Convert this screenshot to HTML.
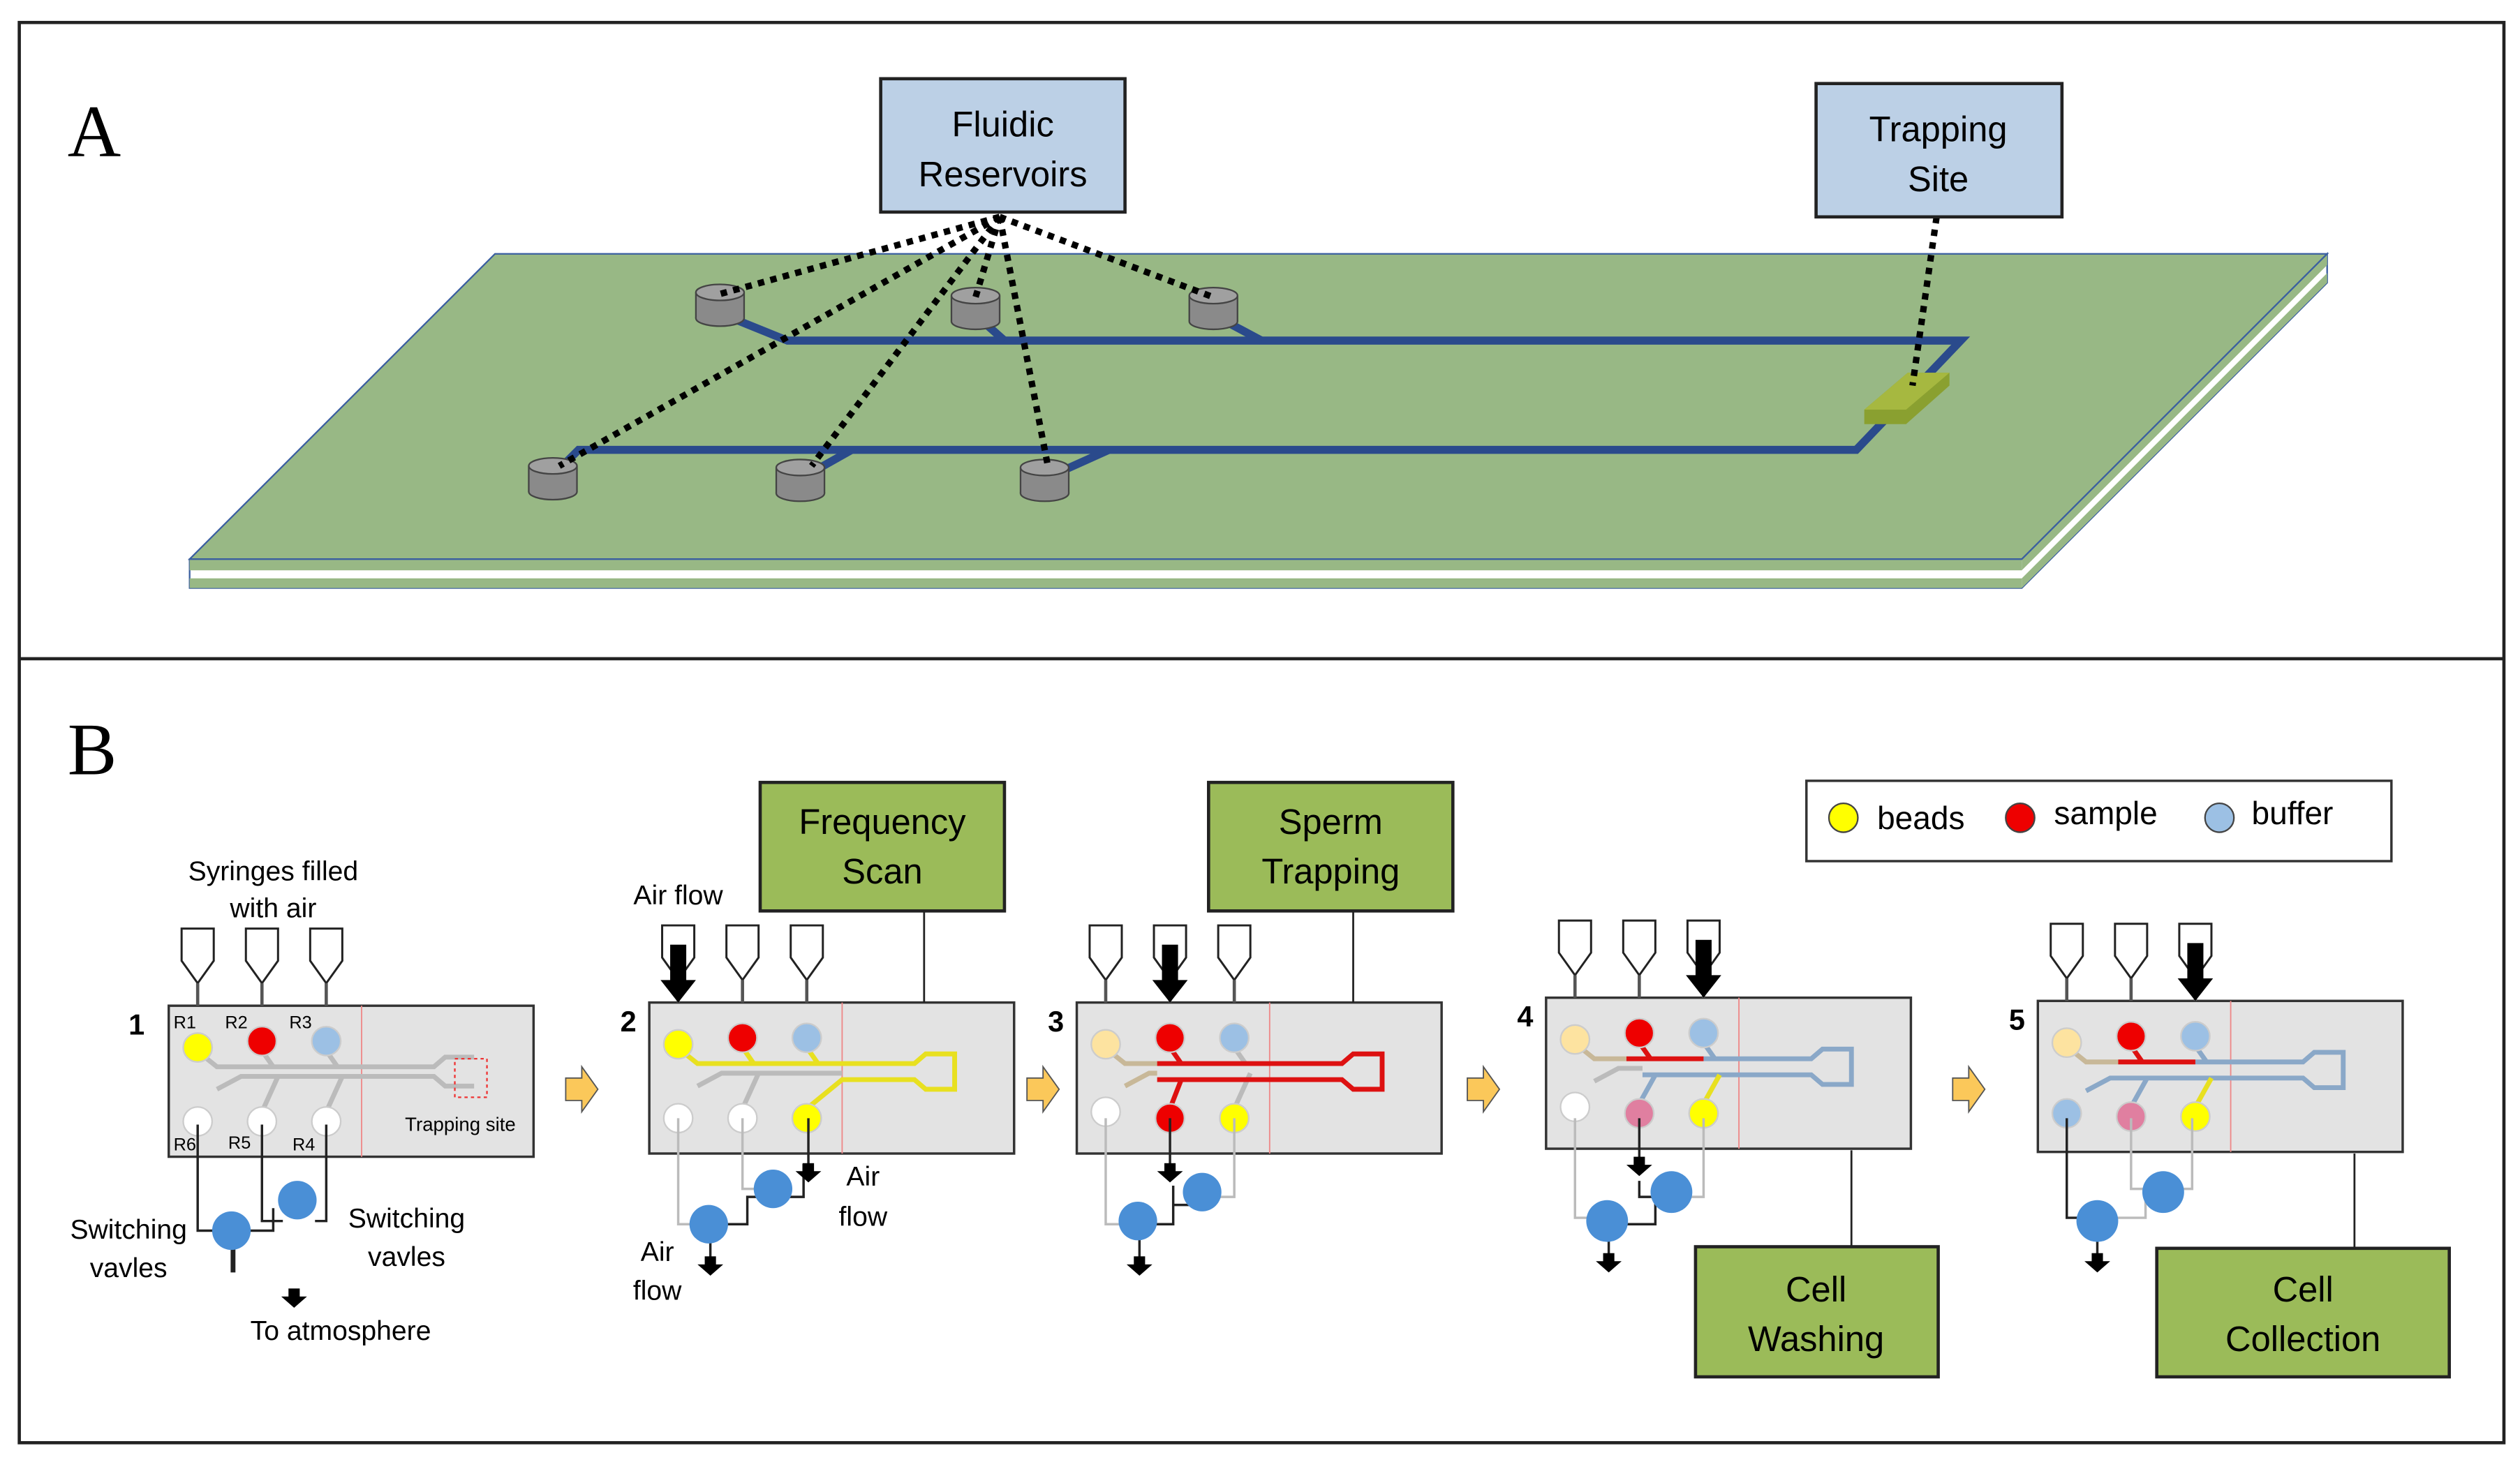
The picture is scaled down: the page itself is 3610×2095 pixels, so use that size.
<!DOCTYPE html>
<html><head><meta charset="utf-8"><style>html,body{margin:0;padding:0;background:#fff}svg{display:block}text{font-family:"Liberation Sans",sans-serif}</style></head><body>
<svg width="3610" height="2095" viewBox="0 0 1568 910" preserveAspectRatio="none" xmlns="http://www.w3.org/2000/svg">
<defs>
<g id="chipbase">
<rect x="0" y="0" width="227" height="94" fill="#e3e3e3" stroke="#333" stroke-width="1.5"/>
<line x1="120" y1="0" x2="120" y2="94" stroke="#e88" stroke-width="0.8"/>
</g>
<g id="syr"><path d="M-10,-48 V-28 L0,-14 L10,-28 V-48 Z" fill="#fff" stroke="#222" stroke-width="1.3"/><line x1="0" y1="-14" x2="0" y2="0" stroke="#555" stroke-width="2"/></g>
<g id="bigarrow"><rect x="-5" y="-40" width="10" height="24" fill="#000"/><path d="M-11,-18 H11 L0,-4 Z" fill="#000"/></g>
<g id="smallarrow"><rect x="-3.5" y="-10" width="7" height="6" fill="#000"/><path d="M-8,-5 H8 L0,2 Z" fill="#000"/></g>
<g id="fwd"><path d="M0,-7 H10 V-14 L20,0 L10,14 V7 H0 Z" fill="#fbc85a" stroke="#555" stroke-width="0.8"/></g>
<g id="res" fill="#8a8a8a" stroke="#444" stroke-width="1"><ellipse cx="0" cy="8" rx="15" ry="5"/><rect x="-15" y="-8" width="30" height="16" stroke="none"/><line x1="-15" y1="-8" x2="-15" y2="8"/><line x1="15" y1="-8" x2="15" y2="8"/><ellipse cx="0" cy="-8" rx="15" ry="5" fill="#a0a0a0"/></g>
</defs>
<rect x="12" y="14" width="1546" height="884" fill="#fff" stroke="#222" stroke-width="2"/>
<line x1="12" y1="410" x2="1558" y2="410" stroke="#222" stroke-width="2"/>
<text x="42" y="97" style="font-family:'Liberation Serif',serif;font-size:46px">A</text>
<text x="42" y="482" style="font-family:'Liberation Serif',serif;font-size:46px">B</text>

<!-- Board -->
<polygon points="118,366 1258,366 1448,176 1448,158 1258,348 118,348" fill="#fff" stroke="#3b5fa0" stroke-width="1"/>
<polygon points="118,348 1258,348 1258,355 118,355" fill="#98b885"/>
<polygon points="118,360 1258,360 1258,366 118,366" fill="#98b885"/>
<polygon points="1258,348 1448,158 1448,165 1258,355" fill="#98b885"/>
<polygon points="1258,360 1448,170 1448,176 1258,366" fill="#98b885"/>
<polygon points="118,348 308,158 1448,158 1258,348" fill="#98b885" stroke="#3b5fa0" stroke-width="1"/>
<g fill="none" stroke="#2a4a8c" stroke-width="5">
<path d="M448,195 L490,212 H1220 L1155,280 H360 L344,296"/>
<path d="M607,196 L625,212"/><path d="M755,196 L785,212"/>
<path d="M498,298 L530,280"/><path d="M650,298 L690,280"/>
</g>
<polygon points="1160,255 1187,232 1213,232 1213,240 1186,264 1160,264" fill="#8aa030"/>
<polygon points="1160,255 1187,232 1213,232 1186,255" fill="#a6b840"/>
<use href="#res" x="448" y="190"/><use href="#res" x="607" y="192"/><use href="#res" x="755" y="192"/>
<use href="#res" x="344" y="298"/><use href="#res" x="498" y="299"/><use href="#res" x="650" y="299"/>
<g stroke="#000" stroke-width="4" stroke-dasharray="4,4" fill="none">
<path d="M622,135 L448,183"/><path d="M622,135 L607,185"/><path d="M622,135 L755,185"/>
<path d="M622,135 L348,290"/><path d="M622,135 L505,290"/><path d="M622,135 L652,290"/>
<path d="M1205,135 L1190,240"/>
</g>
<rect x="548" y="49" width="152" height="83" fill="#bcd0e6" stroke="#222" stroke-width="2"/>
<text x="624" y="85" font-size="22" text-anchor="middle">Fluidic</text>
<text x="624" y="116" font-size="22" text-anchor="middle">Reservoirs</text>
<rect x="1130" y="52" width="153" height="83" fill="#bcd0e6" stroke="#222" stroke-width="2"/>
<text x="1206" y="88" font-size="22" text-anchor="middle">Trapping</text>
<text x="1206" y="119" font-size="22" text-anchor="middle">Site</text>

<!-- Legend -->
<rect x="1124" y="486" width="364" height="50" fill="#fff" stroke="#333" stroke-width="1.5"/>
<circle cx="1147" cy="509" r="9" fill="#ffff00" stroke="#444"/><text x="1168" y="516" font-size="20">beads</text>
<circle cx="1257" cy="509" r="9" fill="#ee0000" stroke="#444"/><text x="1278" y="513" font-size="20">sample</text>
<circle cx="1381" cy="509" r="9" fill="#9cc0e4" stroke="#444"/><text x="1401" y="513" font-size="20">buffer</text>

<!-- Panel 1 -->
<g transform="translate(105,626)">
<use href="#chipbase"/>
<g fill="none" stroke="#bbb" stroke-width="3"><path d="M20,30 L30,38 H165 L172,32 H190 M30,52 L45,44 H165 L172,50 H190 M58,28 L65,38 M98,28 L105,38 M58,66 L68,44 M98,66 L108,44"/></g>
<rect x="178" y="33" width="20" height="24" fill="none" stroke="#e33" stroke-dasharray="2,2"/>
<circle cx="18" cy="26" r="9" fill="#ffff00" stroke="#ccc"/><circle cx="58" cy="22" r="9" fill="#ee0000" stroke="#ccc"/><circle cx="98" cy="22" r="9" fill="#9cc0e4" stroke="#ccc"/>
<circle cx="18" cy="72" r="9" fill="#fff" stroke="#ccc"/><circle cx="58" cy="72" r="9" fill="#fff" stroke="#ccc"/><circle cx="98" cy="72" r="9" fill="#fff" stroke="#ccc"/>
<text x="3" y="14" font-size="11">R1</text><text x="35" y="14" font-size="11">R2</text><text x="75" y="14" font-size="11">R3</text>
<text x="3" y="90" font-size="11">R6</text><text x="37" y="89" font-size="11">R5</text><text x="77" y="90" font-size="11">R4</text>
<text x="147" y="78" font-size="12">Trapping site</text>
<use href="#syr" x="18" y="0"/><use href="#syr" x="58" y="0"/><use href="#syr" x="98" y="0"/>
</g>
<text x="80" y="644" font-size="18" font-weight="bold">1</text>
<g fill="none" stroke="#222" stroke-width="1.5"><path d="M123,700 V766 H136 M163,700 V760 H176 M203,700 V760 H196 M150,766 H170 V752"/><path d="M145,772 V792" stroke-width="3"/></g>
<circle cx="144" cy="766" r="12" fill="#4a8fd6"/><circle cx="185" cy="747" r="12" fill="#4a8fd6"/>
<text x="170" y="548" font-size="17" text-anchor="middle">Syringes filled</text>
<text x="170" y="571" font-size="17" text-anchor="middle">with air</text>
<text x="80" y="771" font-size="17" text-anchor="middle">Switching</text><text x="80" y="795" font-size="17" text-anchor="middle">vavles</text>
<text x="253" y="764" font-size="17" text-anchor="middle">Switching</text><text x="253" y="788" font-size="17" text-anchor="middle">vavles</text>
<use href="#smallarrow" x="183" y="812"/>
<text x="212" y="834" font-size="17" text-anchor="middle">To atmosphere</text>
<use href="#fwd" x="352" y="678"/>

<!-- Panel 2 -->
<g transform="translate(404,624)">
<use href="#chipbase"/>
<g fill="none" stroke="#bbb" stroke-width="3"><path d="M30,52 L45,44 H120 M58,66 L68,44"/></g>
<g fill="none" stroke="#e8e020" stroke-width="3"><path d="M20,30 L30,38 H165 L172,32 H190 V54 H172 L165,48 H120 L98,66 M58,28 L65,38 M98,28 L105,38"/></g>
<circle cx="18" cy="26" r="9" fill="#ffff00" stroke="#ccc"/><circle cx="58" cy="22" r="9" fill="#ee0000" stroke="#ccc"/><circle cx="98" cy="22" r="9" fill="#9cc0e4" stroke="#ccc"/>
<circle cx="18" cy="72" r="9" fill="#fff" stroke="#ccc"/><circle cx="58" cy="72" r="9" fill="#fff" stroke="#ccc"/><circle cx="98" cy="72" r="9" fill="#ffff00" stroke="#ccc"/>
<use href="#syr" x="18" y="0"/><use href="#syr" x="58" y="0"/><use href="#syr" x="98" y="0"/>
<use href="#bigarrow" x="18" y="4"/>
</g>
<text x="386" y="642" font-size="18" font-weight="bold">2</text>
<g fill="none" stroke="#222" stroke-width="1.5"><path d="M503,696 V735 M485,745 H500 V725 H503 M448,762 H465 V745 H480 M442,768 V785"/></g>
<g fill="none" stroke="#bbb" stroke-width="1.5"><path d="M422,696 V762 H432 M462,696 V740 H475"/></g>
<circle cx="481" cy="740" r="12" fill="#4a8fd6"/><circle cx="441" cy="762" r="12" fill="#4a8fd6"/>
<use href="#smallarrow" x="503" y="734"/><use href="#smallarrow" x="442" y="792"/>
<text x="422" y="563" font-size="17" text-anchor="middle">Air flow</text>
<text x="537" y="738" font-size="17" text-anchor="middle">Air</text><text x="537" y="763" font-size="17" text-anchor="middle">flow</text>
<text x="409" y="785" font-size="17" text-anchor="middle">Air</text><text x="409" y="809" font-size="17" text-anchor="middle">flow</text>
<rect x="473" y="487" width="152" height="80" fill="#9bbb59" stroke="#222" stroke-width="2"/>
<text x="549" y="519" font-size="22" text-anchor="middle">Frequency</text><text x="549" y="550" font-size="22" text-anchor="middle">Scan</text>
<line x1="575" y1="567" x2="575" y2="624" stroke="#222" stroke-width="1.2"/>
<use href="#fwd" x="639" y="678"/>

<!-- Panel 3 -->
<g transform="translate(670,624)">
<use href="#chipbase"/>
<g fill="none" stroke="#c8b898" stroke-width="3"><path d="M20,30 L30,38 H50 M30,52 L45,44 H50"/></g>
<g fill="none" stroke="#bbb" stroke-width="3"><path d="M98,28 L105,38 M98,66 L108,44"/></g>
<g fill="none" stroke="#dd1111" stroke-width="3"><path d="M50,38 H165 L172,32 H190 V54 H172 L165,48 H50 M58,28 L65,38 M58,66 L65,48"/></g>
<circle cx="18" cy="26" r="9" fill="#fde3a0" stroke="#ccc"/><circle cx="58" cy="22" r="9" fill="#ee0000" stroke="#ccc"/><circle cx="98" cy="22" r="9" fill="#9cc0e4" stroke="#ccc"/>
<circle cx="18" cy="68" r="9" fill="#fff" stroke="#ccc"/><circle cx="58" cy="72" r="9" fill="#ee0000" stroke="#ccc"/><circle cx="98" cy="72" r="9" fill="#ffff00" stroke="#ccc"/>
<use href="#syr" x="18" y="0"/><use href="#syr" x="58" y="0"/><use href="#syr" x="98" y="0"/>
<use href="#bigarrow" x="58" y="4"/>
</g>
<text x="652" y="642" font-size="18" font-weight="bold">3</text>
<g fill="none" stroke="#222" stroke-width="1.5"><path d="M728,696 V728 M730,738 V750 H745 M712,762 H730 V750 M709,768 V785"/></g>
<g fill="none" stroke="#bbb" stroke-width="1.5"><path d="M688,696 V762 H700 M768,696 V745 H755"/></g>
<circle cx="748" cy="742" r="12" fill="#4a8fd6"/><circle cx="708" cy="760" r="12" fill="#4a8fd6"/>
<use href="#smallarrow" x="728" y="734"/><use href="#smallarrow" x="709" y="792"/>
<rect x="752" y="487" width="152" height="80" fill="#9bbb59" stroke="#222" stroke-width="2"/>
<text x="828" y="519" font-size="22" text-anchor="middle">Sperm</text><text x="828" y="550" font-size="22" text-anchor="middle">Trapping</text>
<line x1="842" y1="567" x2="842" y2="624" stroke="#222" stroke-width="1.2"/>
<use href="#fwd" x="913" y="678"/>

<!-- Panel 4 -->
<g transform="translate(962,621)">
<use href="#chipbase"/>
<g fill="none" stroke="#c8b898" stroke-width="3"><path d="M20,30 L30,38 H50"/></g>
<g fill="none" stroke="#bbb" stroke-width="3"><path d="M30,52 L45,44 H60"/></g>
<g fill="none" stroke="#8aa8c8" stroke-width="3"><path d="M98,38 H165 L172,32 H190 V54 H172 L165,48 H60 M98,28 L105,38 M58,66 L68,48"/></g>
<g fill="none" stroke="#dd1111" stroke-width="3"><path d="M50,38 H98 M58,28 L65,38"/></g>
<path d="M98,66 L108,48" stroke="#e8e020" stroke-width="3"/>
<circle cx="18" cy="26" r="9" fill="#fde3a0" stroke="#ccc"/><circle cx="58" cy="22" r="9" fill="#ee0000" stroke="#ccc"/><circle cx="98" cy="22" r="9" fill="#9cc0e4" stroke="#ccc"/>
<circle cx="18" cy="68" r="9" fill="#fff" stroke="#ccc"/><circle cx="58" cy="72" r="9" fill="#e07fa0" stroke="#ccc"/><circle cx="98" cy="72" r="9" fill="#ffff00" stroke="#ccc"/>
<use href="#syr" x="18" y="0"/><use href="#syr" x="58" y="0"/><use href="#syr" x="98" y="0"/>
<use href="#bigarrow" x="98" y="4"/>
</g>
<text x="944" y="639" font-size="18" font-weight="bold">4</text>
<g fill="none" stroke="#222" stroke-width="1.5"><path d="M1020,696 V725 M1020,735 V745 H1030 V762 H1003 M1001,765 V783"/></g>
<g fill="none" stroke="#bbb" stroke-width="1.5"><path d="M980,696 V758 H990 M1060,696 V745 H1050"/></g>
<circle cx="1040" cy="742" r="13" fill="#4a8fd6"/><circle cx="1000" cy="760" r="13" fill="#4a8fd6"/>
<use href="#smallarrow" x="1020" y="730"/><use href="#smallarrow" x="1001" y="790"/>
<rect x="1055" y="776" width="151" height="81" fill="#9bbb59" stroke="#222" stroke-width="2"/>
<text x="1130" y="810" font-size="22" text-anchor="middle">Cell</text><text x="1130" y="841" font-size="22" text-anchor="middle">Washing</text>
<line x1="1152" y1="716" x2="1152" y2="776" stroke="#222" stroke-width="1.2"/>
<use href="#fwd" x="1215" y="678"/>

<!-- Panel 5 -->
<g transform="translate(1268,623)">
<use href="#chipbase"/>
<g fill="none" stroke="#c8b898" stroke-width="3"><path d="M20,30 L30,38 H50"/></g>
<g fill="none" stroke="#8aa8c8" stroke-width="3"><path d="M98,38 H165 L172,32 H190 V54 H172 L165,48 H45 L30,56 M98,28 L105,38 M58,66 L68,48"/></g>
<g fill="none" stroke="#dd1111" stroke-width="3"><path d="M50,38 H98 M58,28 L65,38"/></g>
<path d="M98,66 L108,48" stroke="#e8e020" stroke-width="3"/>
<circle cx="18" cy="26" r="9" fill="#fde3a0" stroke="#ccc"/><circle cx="58" cy="22" r="9" fill="#ee0000" stroke="#ccc"/><circle cx="98" cy="22" r="9" fill="#9cc0e4" stroke="#ccc"/>
<circle cx="18" cy="70" r="9" fill="#9cc0e4" stroke="#ccc"/><circle cx="58" cy="72" r="9" fill="#e07fa0" stroke="#ccc"/><circle cx="98" cy="72" r="9" fill="#ffff00" stroke="#ccc"/>
<use href="#syr" x="18" y="0"/><use href="#syr" x="58" y="0"/><use href="#syr" x="98" y="0"/>
<use href="#bigarrow" x="98" y="4"/>
</g>
<text x="1250" y="641" font-size="18" font-weight="bold">5</text>
<g fill="none" stroke="#222" stroke-width="1.5"><path d="M1286,696 V758 H1300 V765 M1305,765 V782"/></g>
<g fill="none" stroke="#bbb" stroke-width="1.5"><path d="M1326,696 V740 H1364 V696 M1312,758 H1335 V745"/></g>
<circle cx="1346" cy="742" r="13" fill="#4a8fd6"/><circle cx="1305" cy="760" r="13" fill="#4a8fd6"/>
<use href="#smallarrow" x="1305" y="790"/>
<rect x="1342" y="777" width="182" height="80" fill="#9bbb59" stroke="#222" stroke-width="2"/>
<text x="1433" y="810" font-size="22" text-anchor="middle">Cell</text><text x="1433" y="841" font-size="22" text-anchor="middle">Collection</text>
<line x1="1465" y1="718" x2="1465" y2="777" stroke="#222" stroke-width="1.2"/>
</svg>
</body></html>
